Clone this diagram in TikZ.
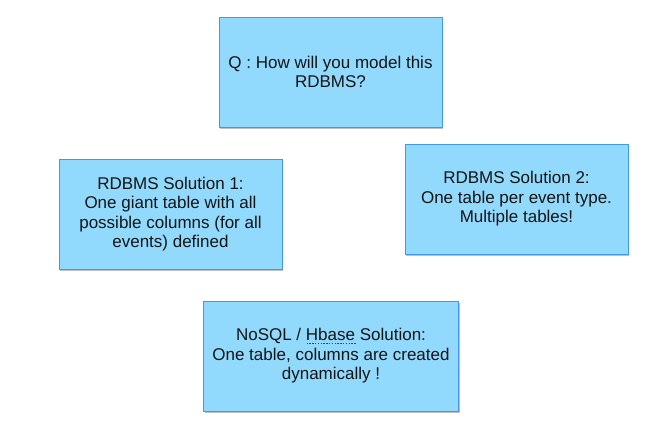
\documentclass[tikz,border=0pt]{standalone}
\usepackage{fontspec}
\setmainfont{Liberation Sans}
\usetikzlibrary{shadows}
\definecolor{boxfill}{RGB}{146,218,253}
\definecolor{boxline}{RGB}{66,153,236}
\definecolor{txt}{RGB}{20,20,20}
\definecolor{spell}{RGB}{235,0,0}
\tikzset{
  card/.style={draw=boxline, line width=0.9bp, fill=boxfill, rectangle,
    inner sep=0pt, align=center, text=txt,
    font=\fontsize{17bp}{19.5bp}\selectfont,
    drop shadow={shadow xshift=1.2bp, shadow yshift=-1.5bp, opacity=0.25, fill=black}},
  spellline/.style={draw=spell, line width=1.4bp, dash pattern=on 1.4bp off 1.4bp}
}
\begin{document}
\begin{tikzpicture}[x=1bp,y=-1bp]
\useasboundingbox (0,0) rectangle (657,431);
\node[card, minimum width=223bp, minimum height=110bp] (q) at (330.5,72)
  {Q : How will you model this\\RDBMS?};
\node[card, minimum width=223bp, minimum height=110bp] (s1) at (170.5,214)
  {RDBMS Solution 1:\\One giant table with all\\possible columns (for all\\events) defined};
\node[card, minimum width=223bp, minimum height=110bp] (s2) at (516.5,199)
  {RDBMS Solution 2:\\One table per event type.\\Multiple tables!};
\node[card, minimum width=255bp, minimum height=110bp] (s3) at (331,356)
  {NoSQL / Hbase Solution:\\One table, columns are created\\dynamically !};
\coordinate (sq1) at ([shift={(-24.5,-12.3)}]s3.center);
\coordinate (sq2) at ([shift={(24.5,-12.3)}]s3.center);
\draw[spellline] (sq1) -- (sq2);
\end{tikzpicture}
\end{document}
